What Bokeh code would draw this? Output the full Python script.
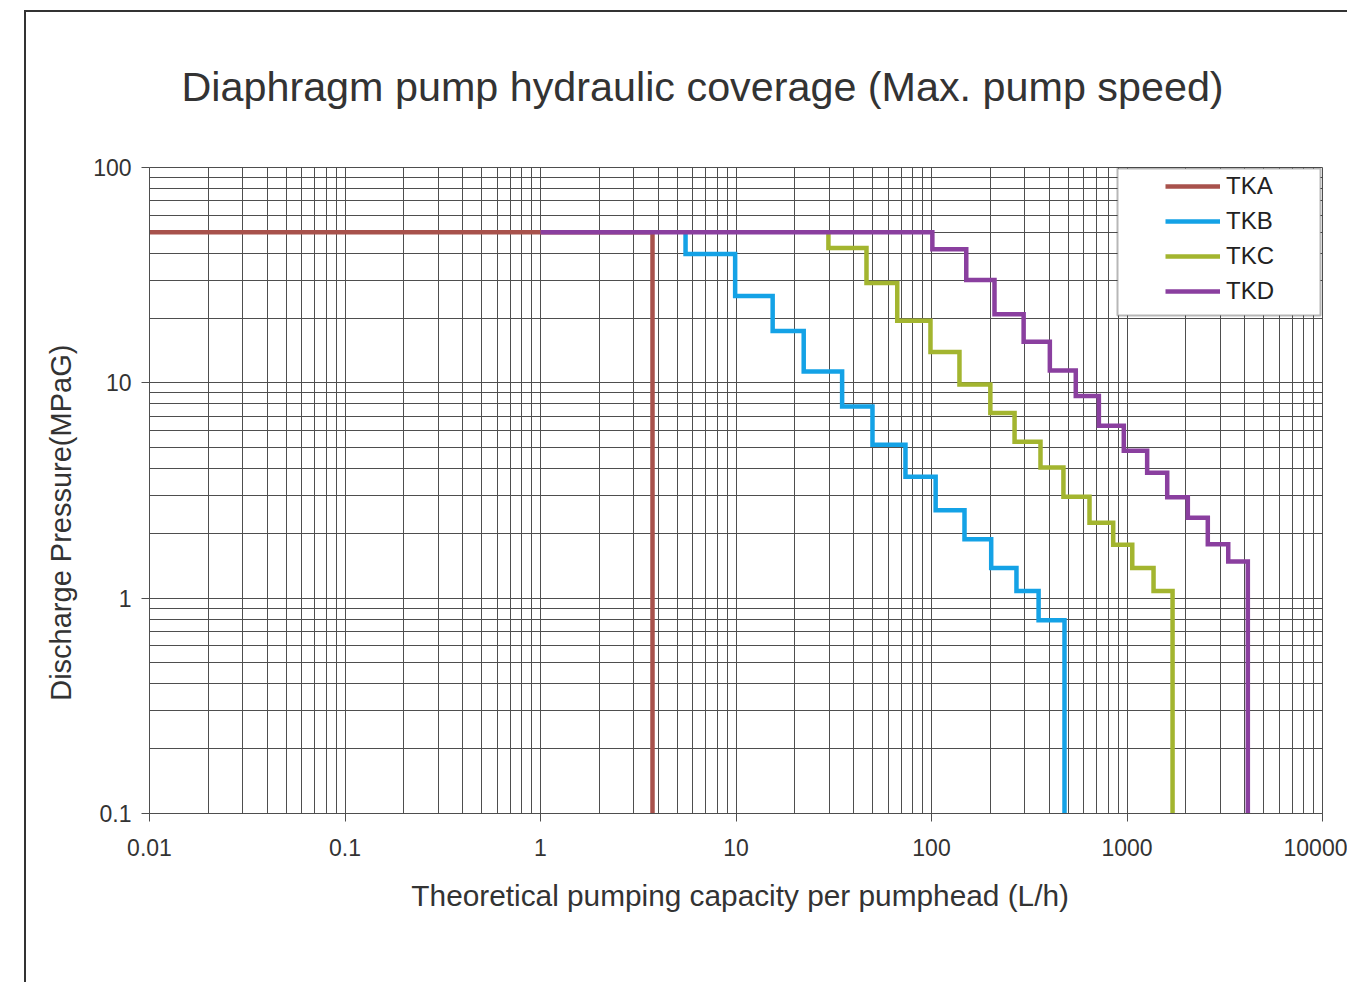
from bokeh.plotting import figure
from bokeh.models import FixedTicker, Legend, LegendItem, BoxAnnotation
from bokeh.embed import file_html
from bokeh.resources import INLINE

# ---------------- data ----------------
title_text = "Diaphragm pump hydraulic coverage (Max. pump speed)"
x_label_text = "Theoretical pumping capacity per pumphead (L/h)"
y_label_text = "Discharge Pressure(MPaG)"

x_ticks = [0.01, 0.1, 1, 10, 100, 1000, 10000]
x_tick_labels = ["0.01", "0.1", "1", "10", "100", "1000", "10000"]
y_ticks = [0.1, 1, 10, 100]
y_tick_labels = ["0.1", "1", "10", "100"]

series_names = ["TKA", "TKB", "TKC", "TKD"]
series_colors = ["#A8524C", "#14A2E6", "#A3B52F", "#8A3F9F"]

# start of each curve (flow, pressure), then flow of every vertical drop and pressure after it
tka_start_flow = 0.01
tka_start_pressure = 50
tka_drop_flow = [3.74]
tka_drop_pressure = [0.1]

tkb_start_flow = 5.52
tkb_start_pressure = 50
tkb_drop_flow = [5.52, 9.9, 15.4, 22.2, 34.9, 49.9, 73.6, 105, 147.5, 202, 272, 353, 479]
tkb_drop_pressure = [39.7, 25.3, 17.4, 11.3, 7.76, 5.16, 3.66, 2.56, 1.88, 1.38, 1.08, 0.79, 0.1]

tkc_start_flow = 29.7
tkc_start_pressure = 50
tkc_drop_flow = [29.7, 46.5, 66.8, 98.8, 139, 200, 266, 361, 473, 643, 850, 1064, 1367, 1710]
tkc_drop_pressure = [42.3, 29.1, 19.4, 13.9, 9.82, 7.24, 5.32, 4.04, 2.96, 2.24, 1.77, 1.38, 1.08, 0.1]

tkd_start_flow = 1.0
tkd_start_pressure = 50
tkd_drop_flow = [101, 150.6, 210, 296, 403, 547, 718, 963, 1268, 1606, 2047, 2590, 3295, 4150]
tkd_drop_pressure = [41.7, 30.0, 20.8, 15.5, 11.4, 8.69, 6.32, 4.84, 3.82, 2.94, 2.36, 1.78, 1.48, 0.1]


def step_path(start_flow, start_pressure, drop_flow, drop_pressure):
    xs, ys = [start_flow], [start_pressure]
    level = start_pressure
    for fx, py in zip(drop_flow, drop_pressure):
        xs += [fx, fx]
        ys += [level, py]
        level = py
    return xs, ys


paths = [
    step_path(tka_start_flow, tka_start_pressure, tka_drop_flow, tka_drop_pressure),
    step_path(tkb_start_flow, tkb_start_pressure, tkb_drop_flow, tkb_drop_pressure),
    step_path(tkc_start_flow, tkc_start_pressure, tkc_drop_flow, tkc_drop_pressure),
    step_path(tkd_start_flow, tkd_start_pressure, tkd_drop_flow, tkd_drop_pressure),
]

FONT = "Liberation Sans"
GRID = "#4e4e4e"

# outer chart-area frame (top and left edges) drawn as CSS background of the figure element
frame_css = ("linear-gradient(#333, #333) 0 7px / 100% 2px no-repeat, "
             "linear-gradient(#333, #333) 0 7px / 2px 100% no-repeat, white")

p = figure(
    x_axis_type="log", y_axis_type="log",
    x_range=(0.01, 10000), y_range=(0.1, 100),
    frame_width=1173, frame_height=646,
    min_border_left=125, min_border_right=25, min_border_top=164, min_border_bottom=169,
    output_backend="svg", toolbar_location=None,
    margin=(3, 0, 0, 24),
    styles={"background": frame_css},
    background_fill_color="white", border_fill_alpha=0,
    title=title_text,
)
p.outline_line_color = GRID
p.outline_line_width = 1

p.title.align = "left"
p.title.offset = 32
p.title.vertical_align = "bottom"
p.title.standoff = 116
p.title.text_font = FONT
p.title.text_font_size = "41.3px"
p.title.text_font_style = "normal"
p.title.text_color = "#333333"

x_minor = [m * t for t in x_ticks[:-1] for m in range(2, 10)]
y_minor = [m * t for t in y_ticks[:-1] for m in range(2, 10)]
xt = FixedTicker(ticks=x_ticks, minor_ticks=x_minor)
yt = FixedTicker(ticks=y_ticks, minor_ticks=y_minor)
p.xaxis.ticker = xt
p.xgrid.ticker = xt
p.yaxis.ticker = yt
p.ygrid.ticker = yt
p.xaxis.major_label_overrides = {v: s for v, s in zip(x_ticks, x_tick_labels)}
p.yaxis.major_label_overrides = {v: s for v, s in zip(y_ticks, y_tick_labels)}

# no-break spaces nudge the centred labels to the reference position
p.xaxis.axis_label = "\u00a0" + x_label_text
p.yaxis.axis_label = y_label_text + "\u00a0" * 8

for ax in (p.xaxis, p.yaxis):
    ax.axis_line_color = GRID
    ax.major_tick_line_color = GRID
    ax.major_tick_in = 0
    ax.major_tick_out = 8
    ax.minor_tick_line_color = None
    ax.major_label_text_font = FONT
    ax.major_label_text_font_size = "23px"
    ax.major_label_text_color = "#333333"
    ax.axis_label_text_font = FONT
    ax.axis_label_text_font_style = "normal"
    ax.axis_label_text_color = "#333333"
p.xaxis.axis_label_text_font_size = "29.8px"
p.yaxis.axis_label_text_font_size = "29px"
p.xaxis.major_label_standoff = 17
p.yaxis.major_label_standoff = 10
p.xaxis.axis_label_standoff = 20
p.yaxis.axis_label_standoff = 13

for g in (p.xgrid, p.ygrid):
    g.grid_line_color = GRID
    g.grid_line_width = 1
    g.minor_grid_line_color = GRID
    g.minor_grid_line_width = 1

renderers = []
for (xs, ys), c in zip(paths, series_colors):
    r = p.line(xs, ys, line_color=c, line_width=4.5, line_join="miter", line_cap="butt")
    renderers.append(r)

# legend frame
box = BoxAnnotation(left=968, right=1171, top=645, bottom=498,
                    left_units="screen", right_units="screen",
                    top_units="screen", bottom_units="screen",
                    fill_color="white", fill_alpha=1.0,
                    line_color="#111111", line_width=2)
p.add_layout(box)

legend = Legend(
    items=[LegendItem(label=n, renderers=[r]) for n, r in zip(series_names, renderers)],
    location=(1016, 508),
    padding=0, margin=0, spacing=7,
    glyph_width=55, glyph_height=28, label_height=28, label_standoff=6,
    label_text_font=FONT, label_text_font_size="24px", label_text_color="#222222",
    border_line_alpha=0, background_fill_alpha=0,
)
p.add_layout(legend)

open("out.html", "w").write(file_html(p, INLINE))
